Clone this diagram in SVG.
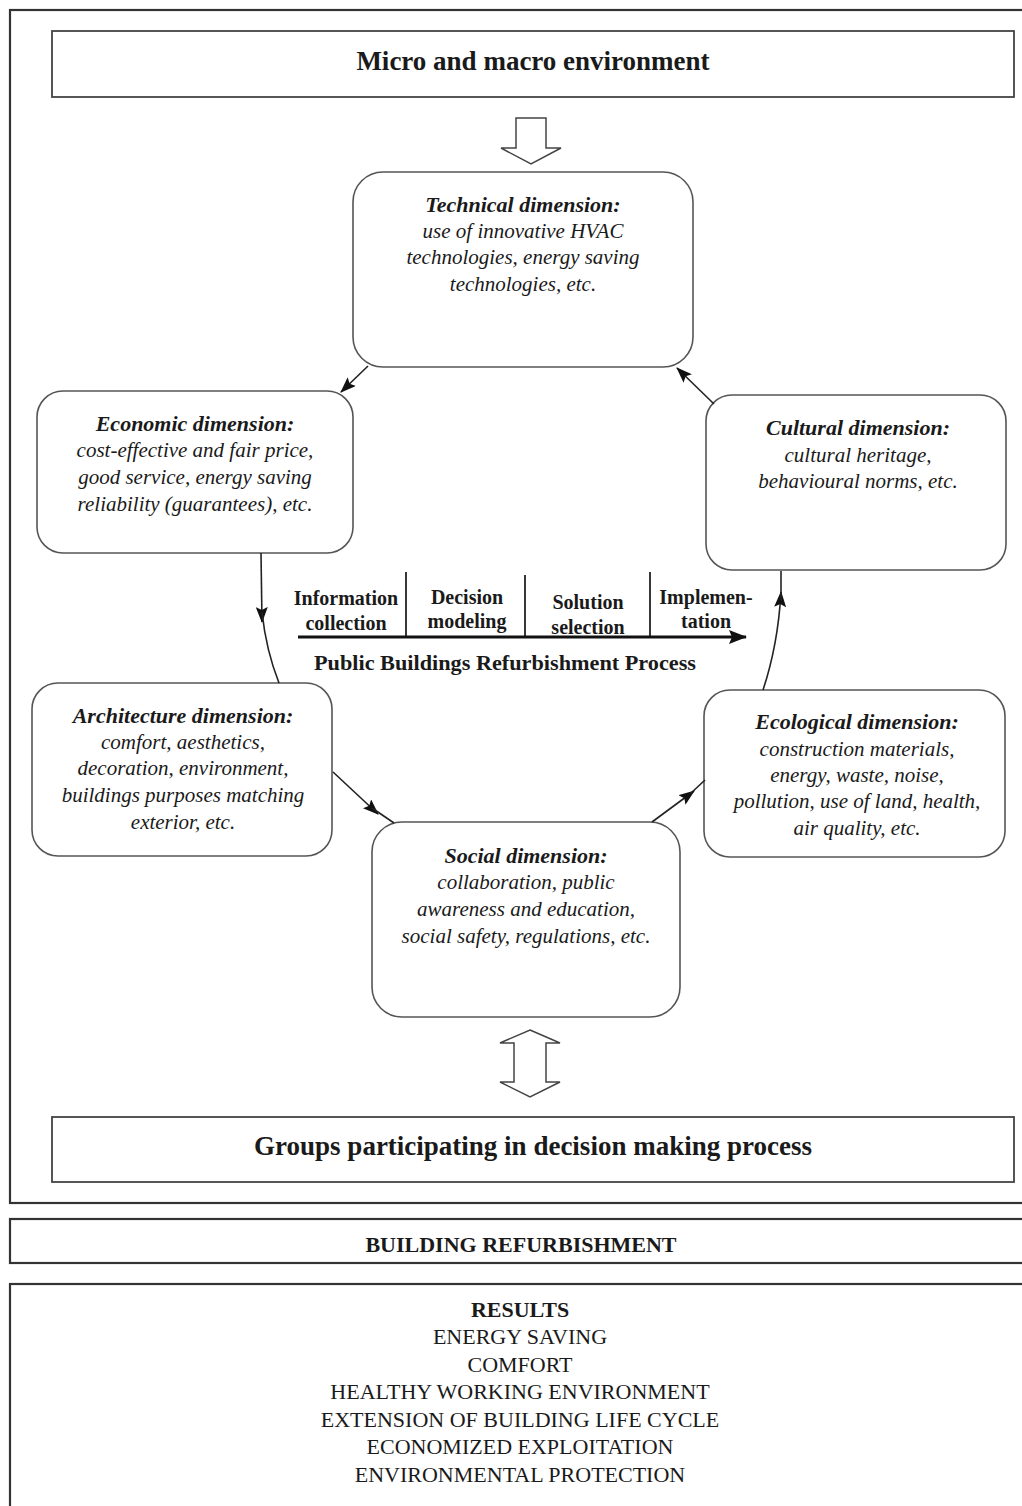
<svg xmlns="http://www.w3.org/2000/svg" width="1022" height="1506" viewBox="0 0 1022 1506">
  <defs>
    <marker id="ah" viewBox="0 0 16 12" refX="15" refY="6" markerWidth="16" markerHeight="12" markerUnits="userSpaceOnUse" orient="auto">
      <path d="M0,0 L16,6 L0,12 L3,6 Z" fill="#111"/>
    </marker>
    <marker id="ahBig" viewBox="0 0 18 14" refX="17" refY="7" markerWidth="18" markerHeight="14" markerUnits="userSpaceOnUse" orient="auto">
      <path d="M0,0 L18,7 L0,14 L3,7 Z" fill="#111"/>
    </marker>
  </defs>
  <style>
    .frame { fill: none; stroke: #333; stroke-width: 2.2; }
    .box { fill: #fff; stroke: #444; stroke-width: 1.8; }
    .dim { fill: #fff; stroke: #555; stroke-width: 1.6; }
    .conn { fill: none; stroke: #222; stroke-width: 1.6; }
    .tick { fill: none; stroke: #222; stroke-width: 1.8; }
    .axis { fill: none; stroke: #111; stroke-width: 3; }
    .hollow { fill: #fff; stroke: #444; stroke-width: 1.5; }
    text { font-family: "Liberation Serif", "Times New Roman", serif; fill: #1a1a1a; text-anchor: middle; }
    .head { font-size: 27px; font-weight: bold; }
    .title { font-size: 22px; font-weight: bold; font-style: italic; }
    .body { font-size: 21px; font-style: italic; }
    .step { font-size: 20px; font-weight: bold; }
    .res { font-size: 22px; }
  </style>

  <rect width="1022" height="1506" fill="#fff"/>

  <!-- outer frame -->
  <rect class="frame" x="10" y="10" width="1030" height="1193"/>

  <!-- environment box -->
  <g id="environment">
    <rect class="box" x="52" y="31" width="962" height="66"/>
    <text class="head" x="533" y="70">Micro and macro environment</text>
  </g>

  <!-- hollow arrow into the cycle -->
  <g id="env-arrow">
    <path class="hollow" d="M516,118 H546 V148 H561 L531,164 L501,148 H516 Z"/>
  </g>

  <g id="technical">
    <rect class="dim" x="353" y="172" width="340" height="195" rx="30"/>
    <text class="title" x="523" y="212">Technical dimension:</text>
    <text class="body" x="523" y="238">use of innovative HVAC</text>
    <text class="body" x="523" y="264">technologies, energy saving</text>
    <text class="body" x="523" y="291">technologies, etc.</text>
  </g>

  <g id="economic">
    <rect class="dim" x="37" y="391" width="316" height="162" rx="26"/>
    <text class="title" x="195" y="431">Economic dimension:</text>
    <text class="body" x="195" y="457">cost-effective and fair price,</text>
    <text class="body" x="195" y="484">good service, energy saving</text>
    <text class="body" x="195" y="511">reliability (guarantees), etc.</text>
  </g>

  <g id="cultural">
    <rect class="dim" x="706" y="395" width="300" height="175" rx="26"/>
    <text class="title" x="858" y="435">Cultural dimension:</text>
    <text class="body" x="858" y="462">cultural heritage,</text>
    <text class="body" x="858" y="488">behavioural norms, etc.</text>
  </g>

  <g id="architecture">
    <rect class="dim" x="32" y="683" width="300" height="173" rx="26"/>
    <text class="title" x="183" y="723">Architecture dimension:</text>
    <text class="body" x="183" y="749">comfort, aesthetics,</text>
    <text class="body" x="183" y="775">decoration, environment,</text>
    <text class="body" x="183" y="802">buildings purposes matching</text>
    <text class="body" x="183" y="829">exterior, etc.</text>
  </g>

  <g id="ecological">
    <rect class="dim" x="704" y="690" width="301" height="167" rx="26"/>
    <text class="title" x="857" y="729">Ecological  dimension:</text>
    <text class="body" x="857" y="756">construction materials,</text>
    <text class="body" x="857" y="782">energy, waste, noise,</text>
    <text class="body" x="857" y="808">pollution, use of land, health,</text>
    <text class="body" x="857" y="835">air quality, etc.</text>
  </g>

  <g id="social">
    <rect class="dim" x="372" y="822" width="308" height="195" rx="30"/>
    <text class="title" x="526" y="863">Social dimension:</text>
    <text class="body" x="526" y="889">collaboration, public</text>
    <text class="body" x="526" y="916">awareness and education,</text>
    <text class="body" x="526" y="943">social safety, regulations, etc.</text>
  </g>

  <!-- refurbishment process timeline -->
  <g id="process">
    <line class="tick" x1="406" y1="572" x2="406" y2="637"/>
    <line class="tick" x1="525" y1="575" x2="525" y2="637"/>
    <line class="tick" x1="650" y1="572" x2="650" y2="637"/>
    <line class="axis" x1="298" y1="637" x2="746" y2="637" marker-end="url(#ahBig)"/>
    <text class="step" x="346" y="605">Information</text>
    <text class="step" x="346" y="630">collection</text>
    <text class="step" x="467" y="604">Decision</text>
    <text class="step" x="467" y="628">modeling</text>
    <text class="step" x="588" y="609">Solution</text>
    <text class="step" x="588" y="634">selection</text>
    <text class="step" x="706" y="604">Implemen-</text>
    <text class="step" x="706" y="628">tation</text>
    <text class="step" x="505" y="670" font-size="22" textLength="382" lengthAdjust="spacingAndGlyphs">Public Buildings Refurbishment Process</text>
  </g>

  <!-- connectors of the cycle -->
  <g id="connectors">
    <path class="conn" d="M368,366 L341,392" marker-end="url(#ah)"/>
    <path class="conn" d="M714,404 L677,368" marker-end="url(#ah)"/>
    <path class="conn" d="M261,553 L262,622" marker-end="url(#ah)"/>
    <path class="conn" d="M262,612 Q266,650 279,683"/>
    <path class="conn" d="M763,690 Q778,645 781,592" marker-end="url(#ah)"/>
    <path class="conn" d="M781,600 L781,571"/>
    <path class="conn" d="M333,772 L378,814" marker-end="url(#ah)"/>
    <path class="conn" d="M372,808 L394,823"/>
    <path class="conn" d="M652,822 L694,791" marker-end="url(#ah)"/>
    <path class="conn" d="M690,794 L705,780"/>
  </g>

  <!-- two-way hollow arrow to the participants -->
  <g id="groups-arrow">
    <path class="hollow" d="M530,1030 L560,1043 H546 V1082 H560 L530,1097 L500,1082 H514 V1043 H500 Z"/>
  </g>

  <g id="groups">
    <rect class="box" x="52" y="1117" width="962" height="65"/>
    <text class="head" x="533" y="1155">Groups participating in decision making process</text>
  </g>

  <g id="refurbishment">
    <rect class="frame" x="10" y="1219" width="1030" height="44"/>
    <text x="521" y="1252" font-size="22" font-weight="bold">BUILDING REFURBISHMENT</text>
  </g>

  <g id="results">
    <rect class="frame" x="10" y="1284" width="1030" height="240"/>
    <text class="res" x="520" y="1317" font-weight="bold">RESULTS</text>
    <text class="res" x="520" y="1344">ENERGY SAVING</text>
    <text class="res" x="520" y="1372">COMFORT</text>
    <text class="res" x="520" y="1399">HEALTHY WORKING ENVIRONMENT</text>
    <text class="res" x="520" y="1427">EXTENSION OF BUILDING LIFE CYCLE</text>
    <text class="res" x="520" y="1454">ECONOMIZED EXPLOITATION</text>
    <text class="res" x="520" y="1482">ENVIRONMENTAL PROTECTION</text>
  </g>
</svg>
